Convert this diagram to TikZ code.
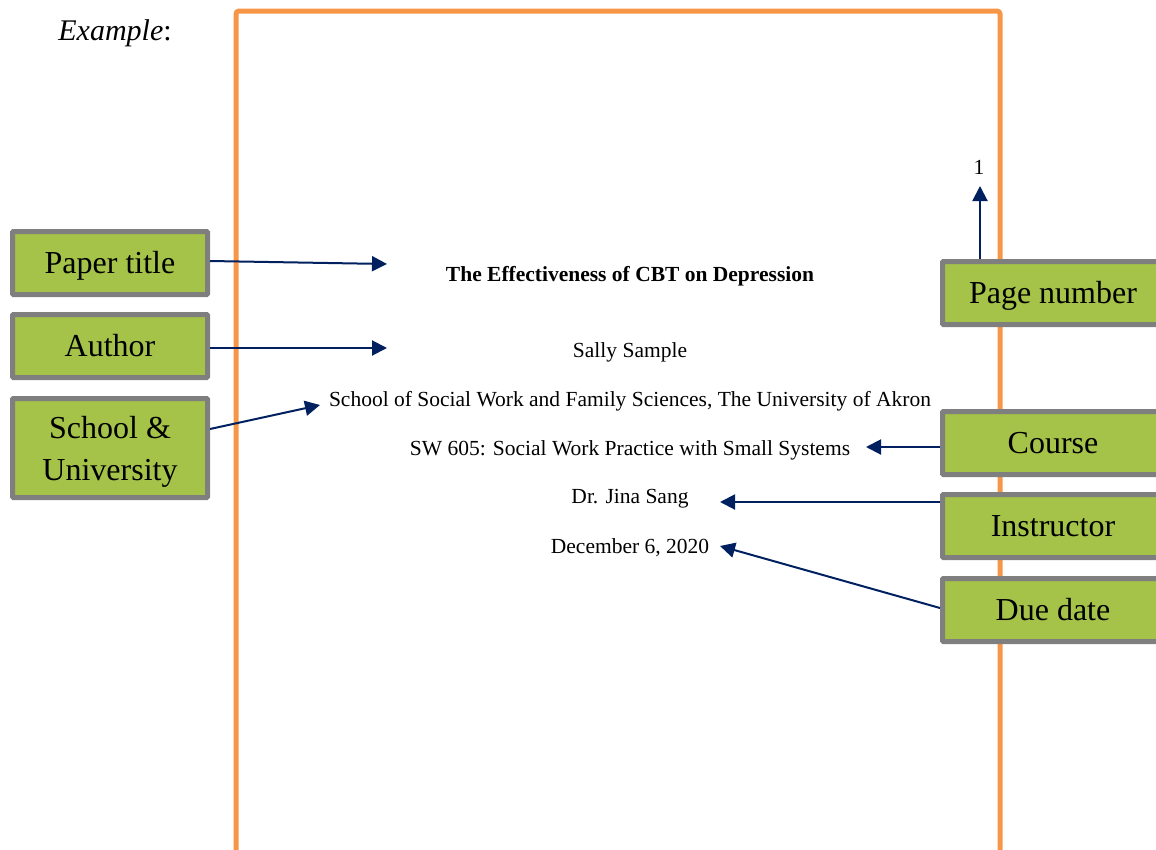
\documentclass[tikz,border=0pt]{standalone}
\usepackage{fontspec}
\setmainfont{Liberation Serif}
\usetikzlibrary{arrows.meta,backgrounds}
\definecolor{pageorange}{HTML}{F79646}
\definecolor{boxgreen}{HTML}{A5C249}
\definecolor{boxgray}{HTML}{7F7F7F}
\definecolor{arrownavy}{HTML}{002060}

\tikzset{
    tag/.style={draw=boxgray,
        fill=boxgreen,
        line width=5pt,
        rounded corners=1pt,
        minimum width=195pt,
        minimum height=63pt,
        align=center,
        text height=22pt,
        text depth=1pt,
        font=\fontsize{32}{42}\selectfont},
    wide tag/.style={tag,
        minimum width=221pt},
    pagetext/.style={font=\fontsize{21.5}{26}\selectfont},
    pointer/.style={arrownavy,
        line width=2pt,
        -{Triangle[length=15pt,width=15pt]}}
}

\begin{document}
\begin{tikzpicture}[x=1pt,y=-1pt]
    \useasboundingbox (0,0) rectangle (1156,849);
    % Page frame
    \draw [pageorange,
        line width=5pt,
        rounded corners=3pt]
        (236,880) -- (236,11) -- (1000,11) -- (1000,880);

    % Heading
    \node [font=\fontsize{30}{36}\selectfont\itshape] (ex) at (115,33) {Example\textup{:}};

    % Title page lines
    \node [pagetext] (num) at (979,167) {1};
    \node [pagetext,font=\fontsize{21.5}{26}\selectfont\bfseries] (title) at (630,276)
        {The Effectiveness of CBT on Depression};
    \node [pagetext] (author) at (630,352) {Sally Sample};
    \node [pagetext] (school) at (630,401)
        {School of Social Work and Family Sciences, The University of Akron};
    \node [pagetext] (course) at (630,450)
        {SW 605: Social Work Practice with Small Systems};
    \node [pagetext] (instr) at (630,499) {Dr. Jina Sang};
    \node [pagetext] (date) at (630,548) {December 6, 2020};

    % Left labels
    \node [tag] (Ltitle) at (110,263) {Paper title};
    \node [tag] (Lauthor) at (110,346) {Author};
    \node [tag,
        minimum height=99pt,
        text height=66pt]
        (Lschool) at (110,448) {School \&\\University};

    % Right labels
    \node [wide tag] (Lnum) at (1053,293) {Page number};
    \node [wide tag] (Lcourse) at (1053,443) {Course};
    \node [wide tag] (Linstr) at (1053,526) {Instructor};
    \node [wide tag] (Ldate) at (1053,610) {Due date};

    % Arrow ends
    \coordinate (tTitle) at (387,264);
    \coordinate (tAuthor) at (387,348);
    \coordinate (tSchool) at (320,405);
    \coordinate (tNum) at (980,186);
    \coordinate (tCourse) at (866,447);
    \coordinate (tInstr) at (720,502);
    \coordinate (tDate) at (720,546);

    % Arrows
    \draw [pointer] (Ltitle.east |- 0,261) -- (tTitle);
    \draw [pointer] (Lauthor.east |- 0,348) -- (tAuthor);
    \draw [pointer] (Lschool.east |- 0,429) -- (tSchool);
    \draw [pointer] (tNum |- Lnum.north) -- (tNum);
    \draw [pointer] (Lcourse.west |- tCourse) -- (tCourse);
    \draw [pointer] (Linstr.west |- tInstr) -- (tInstr);
    \draw [pointer] (Ldate.west |- 0,608) -- (tDate);
\end{tikzpicture}
\end{document}
